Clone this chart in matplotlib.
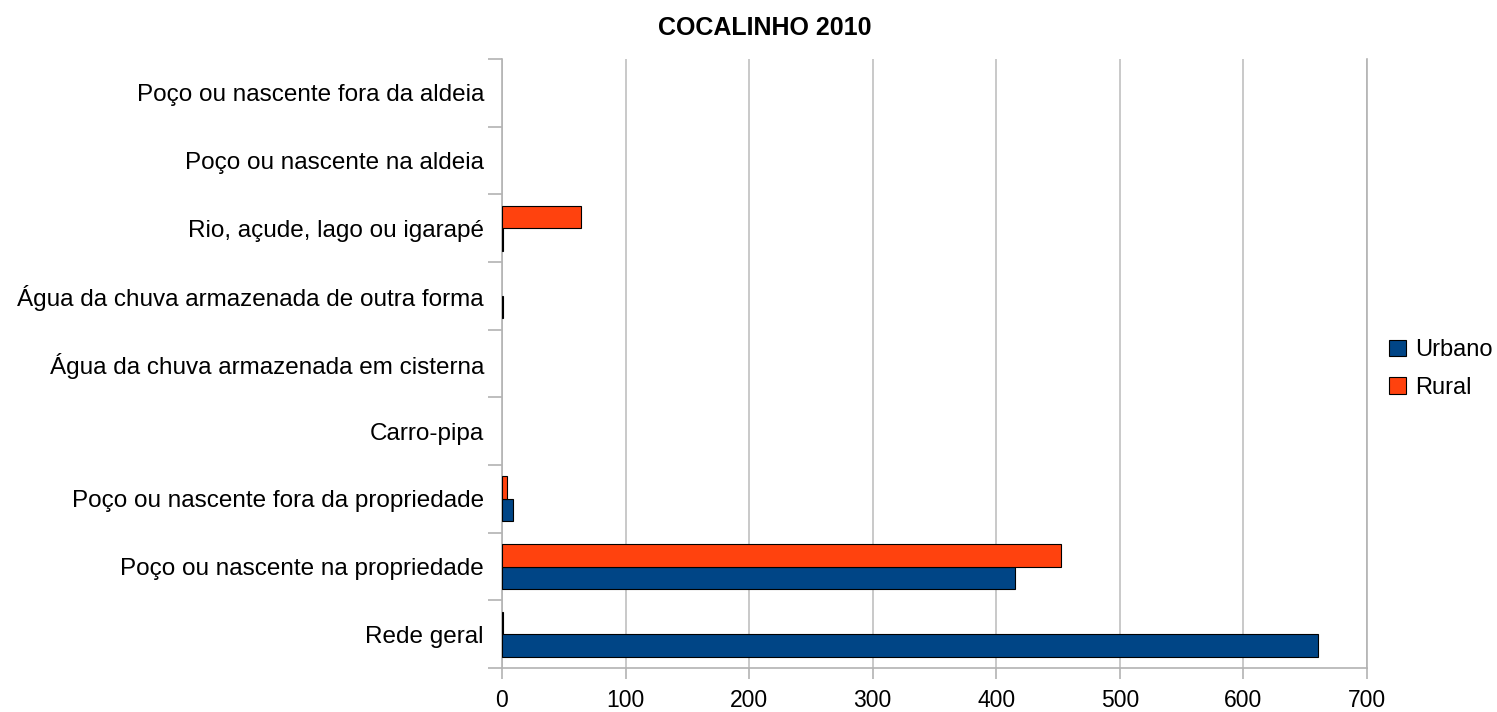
import matplotlib.pyplot as plt
import numpy as np

plt.rcParams['font.family'] = ['Liberation Sans', 'DejaVu Sans']

categories = ['Rede geral',
              'Poço ou nascente na propriedade',
              'Poço ou nascente fora da propriedade',
              'Carro-pipa',
              'Água da chuva armazenada em cisterna',
              'Água da chuva armazenada de outra forma',
              'Rio, açude, lago ou igarapé',
              'Poço ou nascente na aldeia',
              'Poço ou nascente fora da aldeia']
urbano = [660, 415, 9, 0, 0, 1, 1, 0, 0]
rural = [1, 452, 4, 0, 0, 0, 64, 0, 0]
xticks = [0, 100, 200, 300, 400, 500, 600, 700]

fig = plt.figure(figsize=(14.97, 7.12), dpi=100)
ax = fig.add_axes([502/1497, 44/712, 865/1497, 609/712])

y = np.arange(len(categories))
h = 0.332
ax.barh(y - h/2, urbano, height=h, color='#004586', edgecolor='black',
        linewidth=[0.8 if v else 0 for v in urbano], label='Urbano', zorder=3)
ax.barh(y + h/2, rural, height=h, color='#ff420e', edgecolor='black',
        linewidth=[0.8 if v else 0 for v in rural], label='Rural', zorder=3)

ax.set_xlim(0, 700)
ax.set_ylim(-0.5, len(categories) - 0.5)
ax.set_xticks(xticks)
ax.set_yticks(y)
ax.set_yticklabels(categories)
ax.set_yticks(np.arange(-0.5, len(categories)), minor=True)
ax.tick_params(axis='y', which='major', length=0, pad=13, labelsize=17.5)
ax.tick_params(axis='y', which='minor', length=10, color='#b3b3b3', width=1.2)
ax.tick_params(axis='x', length=8, color='#b3b3b3', width=1.2, pad=7, labelsize=16.5)
ax.grid(axis='x', color='#c0c0c0', linewidth=1.2, zorder=0)

ax.spines['top'].set_visible(False)
for s in ['left', 'bottom', 'right']:
    ax.spines[s].set_color('#b3b3b3')
    ax.spines[s].set_linewidth(1.2)

fig.text(765/1497, 1 - 28/712, 'COCALINHO 2010', ha='center', va='center',
         fontsize=18, fontweight='bold')

handles, labels = ax.get_legend_handles_labels()
fig.legend(handles, labels, loc='center left', bbox_to_anchor=(1380/1497, 1 - 369/712),
           frameon=False, fontsize=17, handlelength=0.7, handleheight=0.7,
           handletextpad=0.4, labelspacing=0.65, borderaxespad=0)

fig.savefig('out.png', dpi=100)
